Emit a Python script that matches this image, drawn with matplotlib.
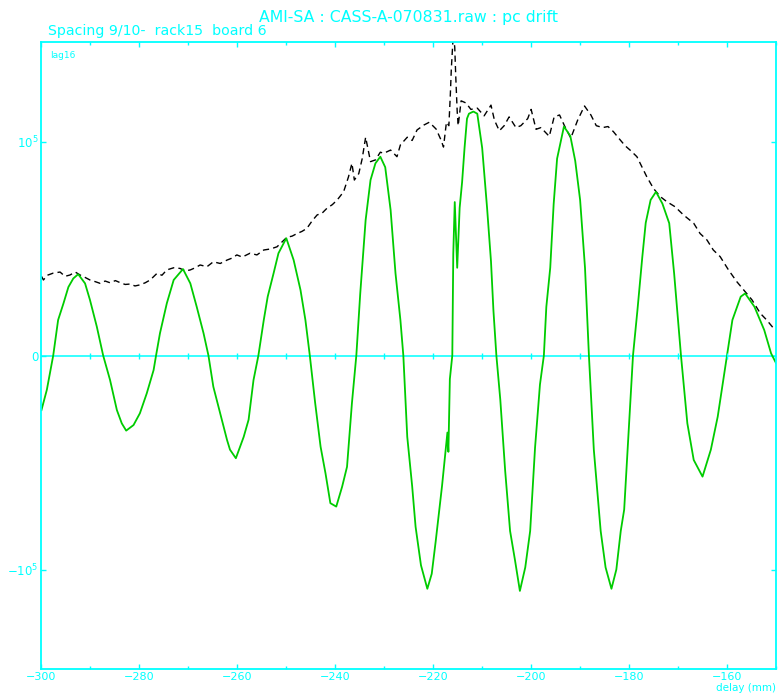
import numpy as np
import matplotlib
matplotlib.use("Agg")
import matplotlib.pyplot as plt
import matplotlib.ticker as ticker

CYAN = "#00ffff"
GREEN = "#00cc00"

# fringe (green), delay in mm, amplitude in units of 1e3
fringe_delay = [
    -300.0, -298.9, -297.6, -296.6, -295.5, -294.5, -293.5, -292.5, -291.1, -290.1,
    -288.7, -287.4, -286.0, -284.6, -283.6, -282.7, -281.2, -279.9, -278.5, -277.1,
    -276.6, -275.8, -274.4, -273.0, -271.1, -269.6, -268.3, -266.9, -265.9, -264.9,
    -263.5, -262.1, -261.5, -260.3, -258.7, -257.7, -256.7, -255.7, -254.6, -253.8,
    -252.6, -251.6, -250.0, -248.5, -247.1, -246.1, -245.2, -244.1, -243.0, -242.0,
    -241.0, -239.8, -238.6, -237.6, -236.6, -235.7, -234.9, -233.8, -232.8, -231.8,
    -230.8, -229.8, -228.7, -227.7, -226.7, -226.1, -225.3, -224.3, -223.6, -222.5,
    -221.2, -220.3, -219.5, -218.2, -217.1, -216.9, -216.6, -216.1, -215.9, -215.6,
    -215.1, -214.6, -214.1, -213.6, -213.1, -212.7, -211.8, -211.0, -210.0, -209.0,
    -208.2, -207.7, -207.1, -206.3, -205.3, -204.3, -203.3, -202.3, -201.2, -200.2,
    -199.2, -198.2, -197.4, -196.9, -196.1, -195.4, -194.7, -193.3, -192.0, -191.0,
    -190.0, -189.0, -188.2, -187.2, -185.8, -184.8, -183.6, -182.6, -181.7, -181.0,
    -180.0, -179.2, -178.3, -177.3, -176.6, -175.6, -174.5, -173.2, -171.8, -170.8,
    -169.4, -168.1, -166.8, -165.0, -163.3, -161.9, -160.0, -158.9, -157.2, -156.3,
    -154.4, -152.4, -151.0, -150.0,
]
fringe_amp = [
    -25.5, -16.0, 0.0, 16.6, 24.4, 32.0, 36.0, 38.0, 33.7, 26.0,
    13.5, 0.0, -11.4, -25.5, -31.7, -35.1, -32.5, -27.0, -17.7, -6.8,
    0.0, 10.4, 24.4, 35.3, 40.4, 33.7, 22.8, 10.4, 0.0, -14.6,
    -27.0, -39.5, -44.0, -48.0, -38.0, -30.0, -11.5, 0.0, 16.6, 27.5,
    38.4, 47.8, 54.8, 44.6, 30.6, 16.6, 0.0, -22.3, -42.6, -55.0,
    -69.0, -70.6, -61.3, -52.0, -22.3, 0.0, 29.0, 63.3, 82.0, 89.8,
    92.9, 88.0, 68.0, 38.4, 16.6, 0.0, -38.0, -61.0, -80.0, -98.0,
    -109.0, -102.0, -87.0, -61.0, -36.0, -45.0, -11.0, 0.0, 47.6, 71.7,
    41.0, 69.0, 81.0, 97.0, 110.7, 113.0, 114.0, 113.0, 97.0, 69.0,
    44.0, 21.0, 0.0, -20.6, -54.0, -82.0, -95.6, -110.0, -99.0, -82.0,
    -43.0, -13.6, 0.0, 22.7, 41.0, 70.8, 92.0, 107.0, 102.6, 91.0,
    72.7, 41.0, 0.0, -44.0, -82.0, -99.0, -109.0, -100.0, -82.0, -72.0,
    -31.7, 0.0, 21.0, 46.0, 62.0, 72.7, 76.5, 71.0, 61.8, 38.4,
    0.0, -31.7, -48.8, -56.6, -44.0, -28.6, 0.0, 16.6, 27.5, 29.0,
    22.8, 11.9, 1.0, -3.5,
]

# amplitude (black dashed), same units
amp_delay = [
    -300.0, -299.6, -298.8, -297.6, -296.2, -295.2, -294.2, -293.1, -292.1, -291.1,
    -290.1, -289.0, -288.0, -287.0, -286.0, -284.9, -283.9, -282.9, -281.9, -280.9,
    -279.9, -278.8, -277.8, -276.4, -275.4, -274.4, -273.0, -271.7, -270.6, -269.6,
    -268.6, -267.6, -266.2, -264.9, -263.5, -262.1, -261.1, -260.1, -259.0, -257.4,
    -256.0, -254.6, -253.2, -251.9, -250.9, -249.9, -248.8, -247.8, -246.8, -245.8,
    -244.7, -243.7, -242.7, -241.7, -240.6, -239.6, -238.3, -237.3, -236.6, -236.1,
    -235.2, -234.5, -233.8, -233.2, -232.8, -231.8, -230.8, -230.1, -228.7, -227.4,
    -226.7, -225.3, -224.3, -223.3, -221.9, -220.8, -219.4, -218.4, -217.9, -217.3,
    -216.8, -216.5, -216.3, -215.9, -215.6, -215.4, -215.1, -214.9, -214.3, -213.3,
    -212.3, -211.0, -209.6, -208.2, -207.5, -206.5, -205.5, -204.5, -203.1, -202.1,
    -200.7, -200.0, -199.0, -198.0, -196.3, -195.3, -194.2, -193.2, -191.9, -190.5,
    -189.1, -187.8, -186.7, -185.4, -184.3, -183.2, -181.8, -180.8, -179.8, -178.4,
    -177.4, -176.4, -175.0, -173.6, -172.3, -170.6, -168.9, -166.8, -165.5, -164.1,
    -162.8, -161.4, -159.7, -158.0, -156.3, -154.9, -153.2, -151.9, -150.2,
]
amp_value = [
    37.0, 35.3, 37.5, 38.5, 39.0, 37.0, 37.6, 39.0, 37.6, 36.5,
    35.3, 34.5, 33.7, 34.8, 34.0, 35.0, 34.0, 33.2, 33.4, 32.5,
    33.0, 34.0, 35.3, 38.4, 37.5, 40.0, 41.0, 40.7, 39.5, 40.0,
    41.0, 42.3, 41.5, 43.8, 43.0, 44.6, 45.5, 47.0, 46.0, 47.8,
    47.0, 49.3, 49.8, 50.8, 53.0, 55.2, 55.8, 57.0, 58.0, 59.4,
    63.0, 65.7, 66.5, 68.8, 70.5, 72.7, 76.5, 83.5, 89.8, 82.0,
    85.0, 92.0, 102.0, 95.0, 90.6, 91.4, 95.0, 94.5, 96.0, 92.9,
    98.4, 102.0, 100.5, 105.4, 107.7, 109.0, 105.8, 100.7, 97.4, 109.0,
    107.4, 122.0, 134.0, 150.0, 144.0, 130.7, 114.0, 107.4, 119.0, 118.0,
    115.0, 115.6, 112.0, 117.0, 110.0, 105.0, 107.4, 111.5, 106.5, 107.4,
    110.7, 115.0, 105.7, 106.5, 102.4, 111.5, 112.4, 107.4, 101.6, 110.0,
    116.6, 112.4, 107.4, 106.5, 107.0, 104.6, 100.7, 98.0, 96.0, 92.9,
    88.2, 83.6, 78.0, 74.2, 71.9, 69.5, 65.7, 61.8, 57.0, 54.0,
    49.3, 46.2, 40.0, 34.5, 29.8, 26.0, 19.7, 16.6, 11.9,
]

title = "AMI-SA : CASS-A-070831.raw : pc drift"
subtitle = "Spacing 9/10-  rack15  board 6"
panel_label = "lag16"

plt.rcParams["mathtext.default"] = "regular"

scale = 1e3
fig = plt.figure(figsize=(7.78, 6.93), dpi=100, facecolor="white")
ax = fig.add_axes([0.0533, 0.0346, 0.9441, 0.9048])

ax.plot(amp_delay, np.array(amp_value) * scale, color="black", lw=1.0,
        linestyle=(0, (4.5, 3)))
ax.plot(fringe_delay, np.array(fringe_amp) * scale, color=GREEN, lw=1.3)

# zero line with its own ticks every 10 mm
ax.axhline(0, color=CYAN, lw=1.1, zorder=0)
zticks = np.arange(-290, -150, 10)
ax.plot(zticks, np.zeros_like(zticks), "|", color=CYAN, ms=4, mew=1.0)

ax.set_xlim(-300, -150)
ax.set_ylim(-1.465e5, 1.465e5)

ax.xaxis.set_major_locator(ticker.MultipleLocator(20))
ax.xaxis.set_minor_locator(ticker.MultipleLocator(10))
ax.set_yticks([-1e5, 0, 1e5])
ax.set_yticklabels([r"$-10^5$", "0", r"$10^5$"])

for s in ax.spines.values():
    s.set_color(CYAN)
    s.set_linewidth(1.3)

ax.tick_params(which="both", direction="in", colors=CYAN, top=True, right=True,
               labelcolor=CYAN)
ax.tick_params(which="major", length=3.6, width=1.0)
ax.tick_params(which="minor", length=2.2, width=1.0)
ax.tick_params(axis="x", pad=2.5, labelsize=8)
ax.tick_params(axis="y", pad=2, labelsize=8.5)

fig.text(0.525, 0.975, title, color=CYAN, fontsize=11.3, ha="center", va="center")
fig.text(0.062, 0.955, subtitle, color=CYAN, fontsize=10.2, ha="left", va="center")
ax.text(0.012, 0.985, panel_label, color=CYAN, fontsize=6.5, transform=ax.transAxes,
        ha="left", va="top")
fig.text(0.997, 0.0, "delay (mm)", color=CYAN, fontsize=7.5, ha="right", va="bottom")

fig.savefig("out.png", dpi=100, facecolor="white")
